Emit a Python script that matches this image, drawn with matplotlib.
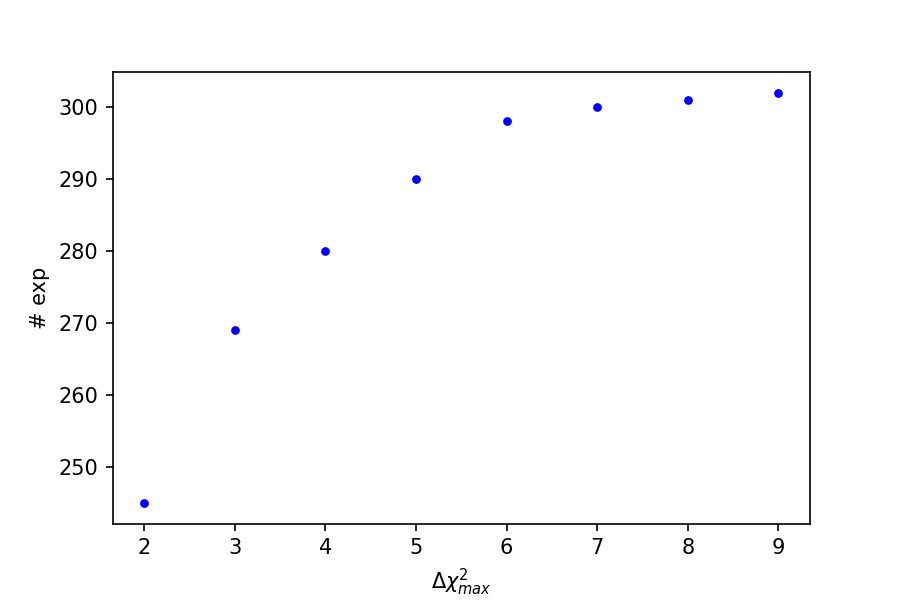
import matplotlib
matplotlib.use("Agg")
import matplotlib.pyplot as plt

delta_chi2_max = [2, 3, 4, 5, 6, 7, 8, 9]
n_exp = [245, 269, 280, 290, 298, 300, 301, 302]

fig, ax = plt.subplots(figsize=(6, 4), dpi=150)
fig.subplots_adjust(left=0.125, right=0.9, top=0.88, bottom=0.127)
ax.plot(delta_chi2_max, n_exp, 'o', color='blue', markersize=4.2, markeredgewidth=0)
ax.set_xlabel(r'$\Delta\chi^2_{max}$')
ax.set_ylabel('# exp')
fig.savefig('out.png', dpi=150)
